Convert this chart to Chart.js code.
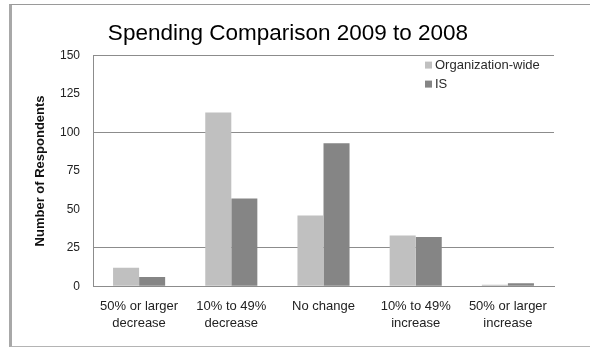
<!DOCTYPE html>
<html>
<head>
<meta charset="utf-8">
<script src="https://cdn.jsdelivr.net/npm/chart.js@4/dist/chart.umd.min.js"></script>
<style>
    html, body { margin: 0; padding: 0; background: #fff; overflow: hidden; }
    #frame {
        position: absolute; left: 9px; top: 4px; width: 600px; height: 341px;
        border-left: 3px solid #a8a8a8; border-top: 1px solid #9a9a9a; border-bottom: 1px solid #b4b4b4;
    }
    #chart-box { position: absolute; left: 12px; top: 5px; width: 578px; height: 340px; }
</style>
</head>
<body>
<div id="frame"></div>
<div id="chart-box"><canvas id="spending-chart"></canvas></div>
<script>
const categories = [
    ["50% or larger", "decrease"],
    ["10% to 49%", "decrease"],
    ["No change"],
    ["10% to 49%", "increase"],
    ["50% or larger", "increase"],
]
const orgWide = [12, 113, 46, 33, 1]
const isDept = [6, 57, 93, 32, 2]
const yTicks = [0, 25, 50, 75, 100, 125, 150]
const shownGrid = [25, 100, 150]

const FONT = "'Liberation Sans', Arial, sans-serif"

// legend drawn inside the plot, top right corner
const cornerLegend = {
    id: "cornerLegend",
    afterDraw(chart) {
        const ctx = chart.ctx
        const area = chart.chartArea
        const x = area.right - 129
        let y = area.top + 10
        ctx.save()
        ctx.font = `13px ${FONT}`
        ctx.textBaseline = "middle"
        chart.data.datasets.forEach(ds => {
            ctx.fillStyle = ds.backgroundColor
            ctx.fillRect(x, y - 4, 7, 7)
            ctx.fillStyle = "#2a2a2a"
            ctx.fillText(ds.label, x + 10, y)
            y += 19
        })
        ctx.restore()
    }
}

const ctx = document.getElementById("spending-chart").getContext("2d")

new Chart(ctx, {
    type: "bar",
    data: {
        labels: categories,
        datasets: [
            { label: "Organization-wide", data: orgWide, backgroundColor: "#c0c0c0" },
            { label: "IS", data: isDept, backgroundColor: "#858585" },
        ]
    },
    options: {
        responsive: true,
        maintainAspectRatio: false,
        animation: false,
        categoryPercentage: 0.565,
        barPercentage: 1,
        layout: { padding: { left: 10, right: 36, top: 0, bottom: 9 } },
        plugins: {
            legend: { display: false },
            tooltip: { enabled: false },
            title: {
                display: true,
                text: "Spending Comparison 2009 to 2008",
                color: "#000",
                font: { family: FONT, size: 22.5, weight: "normal" },
                padding: { top: 15, bottom: 8.6 },
            },
        },
        scales: {
            x: {
                grid: { display: false },
                border: { display: true, color: "#8c8c8c" },
                ticks: {
                    color: "#222",
                    font: { family: FONT, size: 13, lineHeight: 1.3 },
                    padding: 4,
                    maxRotation: 0,
                    autoSkip: false,
                },
            },
            y: {
                min: 0,
                max: 150,
                afterBuildTicks(scale) {
                    scale.ticks = yTicks.map(v => ({ value: v }))
                },
                afterFit(scale) {
                    scale.width = 71
                },
                grid: {
                    drawTicks: false,
                    color: c => shownGrid.includes(c.tick.value) ? "#8c8c8c" : "rgba(0,0,0,0)",
                },
                border: { display: true, color: "#8c8c8c" },
                ticks: {
                    color: "#222",
                    font: { family: FONT, size: 12 },
                    padding: 13,
                },
                title: {
                    display: true,
                    text: "Number of Respondents",
                    color: "#111",
                    font: { family: FONT, size: 13, weight: "bold" },
                    padding: { top: 10.2, bottom: 0 },
                },
            },
        },
    },
    plugins: [cornerLegend],
})
</script>
</body>
</html>
